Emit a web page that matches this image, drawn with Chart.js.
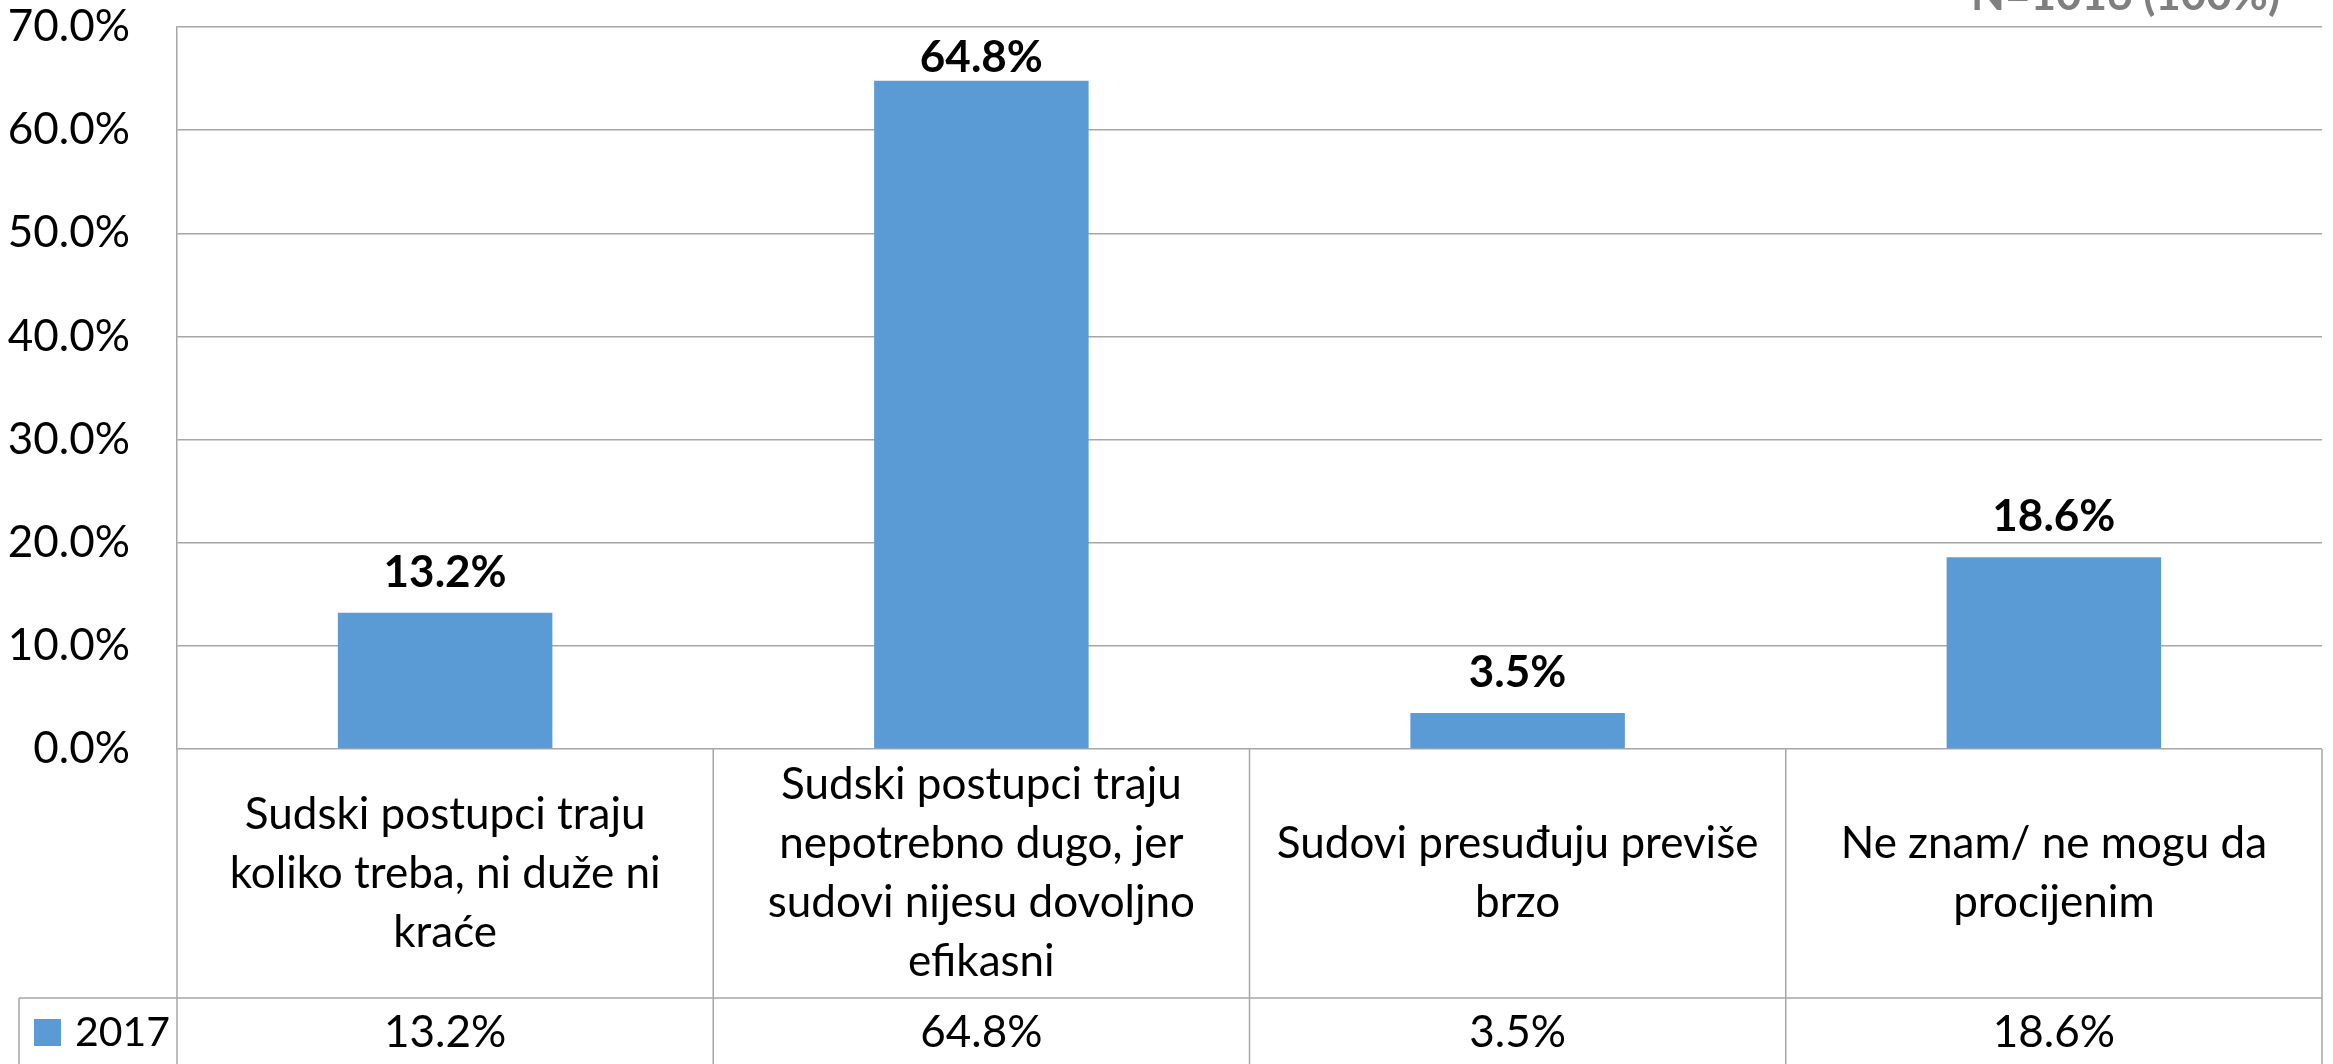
<!DOCTYPE html>
<html>
<head>
<meta charset="utf-8">
<script src="https://cdn.jsdelivr.net/npm/chart.js@4.4.1/dist/chart.umd.min.js"></script>
<style>
html,body{margin:0;padding:0;background:#fff;overflow:hidden;}
canvas{display:block;}
</style>
</head>
<body>
<canvas id="courtChart" width="2333" height="1064" style="width:2333px;height:1064px"></canvas>
<script>
/* chart data */
const categories = [
  ["Sudski postupci traju", "koliko treba, ni duže ni", "kraće"],
  ["Sudski postupci traju", "nepotrebno dugo, jer", "sudovi nijesu dovoljno", "efikasni"],
  ["Sudovi presuđuju previše", "brzo"],
  ["Ne znam/ ne mogu da", "procijenim"]
];
const seriesName = "2017";
const values2017 = [13.2, 64.8, 3.5, 18.6];
const yMax = 70;
const yStep = 10;
const sampleNote = "N=1016 (100%)";

const FONT = "Lato, 'Open Sans', sans-serif";
const gridColor = "#a6a6a6";
const barColor = "#5b9bd5";

function pct(v){ return Number(v).toFixed(1) + "%"; }

/* table under the plot + value labels */
const tablePlugin = {
  id: "tablePlugin",
  afterDraw(chart) {
    const ctx = chart.ctx;
    const area = chart.chartArea;
    const x = chart.scales.x;
    const n = categories.length;
    const cw = (area.right - area.left) / n;
    const rowTop = area.bottom;
    const rowSplit = area.bottom + 249;
    const bottom = chart.height + 5;

    ctx.save();
    ctx.strokeStyle = gridColor;
    ctx.lineWidth = 1.5;

    // vertical cell borders
    for (let i = 0; i <= n; i++) {
      const bx = area.left + i * cw;
      ctx.beginPath();
      ctx.moveTo(bx, rowTop);
      ctx.lineTo(bx, bottom);
      ctx.stroke();
    }
    // row separator incl. legend cell
    const legendLeft = 19;
    ctx.beginPath();
    ctx.moveTo(legendLeft, rowSplit);
    ctx.lineTo(area.right, rowSplit);
    ctx.stroke();
    ctx.beginPath();
    ctx.moveTo(legendLeft, rowSplit);
    ctx.lineTo(legendLeft, bottom);
    ctx.stroke();

    // category labels
    ctx.fillStyle = "#000";
    ctx.font = "44px " + FONT;
    ctx.textAlign = "center";
    ctx.textBaseline = "middle";
    const lh = 59;
    const midY = (rowTop + rowSplit) / 2;
    categories.forEach((lines, i) => {
      const cx = x.getPixelForValue(i);
      const y0 = midY - (lines.length - 1) * lh / 2;
      lines.forEach((t, j) => ctx.fillText(t, cx, y0 + j * lh));
    });

    // value row
    const valY = rowSplit + 35;
    values2017.forEach((v, i) => {
      ctx.fillText(pct(v), x.getPixelForValue(i), valY);
    });

    // legend cell
    ctx.fillStyle = barColor;
    ctx.fillRect(34, valY - 14, 27, 27);
    ctx.fillStyle = "#000";
    ctx.textAlign = "left";
    ctx.font = "41px " + FONT;
    ctx.fillText(seriesName, 75, valY);

    // data labels above bars
    ctx.font = "bold 44px " + FONT;
    ctx.textAlign = "center";
    const meta = chart.getDatasetMeta(0);
    meta.data.forEach((bar, i) => {
      const ly = Math.max(bar.y - 40, area.top + 31);
      ctx.fillText(pct(values2017[i]), bar.x, ly);
    });

    // sample note, cut at top edge
    ctx.fillStyle = "#7f7f7f";
    ctx.textAlign = "right";
    ctx.textBaseline = "alphabetic";
    ctx.fillText(sampleNote, 2280, 10);
    ctx.restore();
  }
};

new Chart(document.getElementById("courtChart"), {
  type: "bar",
  data: {
    labels: categories,
    datasets: [{
      label: seriesName,
      data: values2017,
      backgroundColor: barColor,
      borderWidth: 0,
      barPercentage: 1,
      categoryPercentage: 0.4
    }]
  },
  options: {
    responsive: false,
    devicePixelRatio: 1,
    animation: false,
    layout: { padding: { left: 0, right: 11, top: 27, bottom: 315 } },
    plugins: {
      legend: { display: false },
      tooltip: { enabled: false }
    },
    scales: {
      x: {
        display: false,
        grid: { display: false }
      },
      y: {
        min: 0,
        max: yMax,
        afterFit: (scale) => {
          scale.width = 177;
          scale.paddingTop = 0;
          scale.paddingBottom = 0;
        },
        ticks: {
          stepSize: yStep,
          padding: 47,
          color: "#000",
          font: { family: FONT, size: 44 },
          callback: (v) => pct(v)
        },
        grid: { color: gridColor, lineWidth: 1.5, drawTicks: false },
        border: { display: true, color: gridColor, width: 1.5 }
      }
    }
  },
  plugins: [tablePlugin]
});
</script>
</body>
</html>
